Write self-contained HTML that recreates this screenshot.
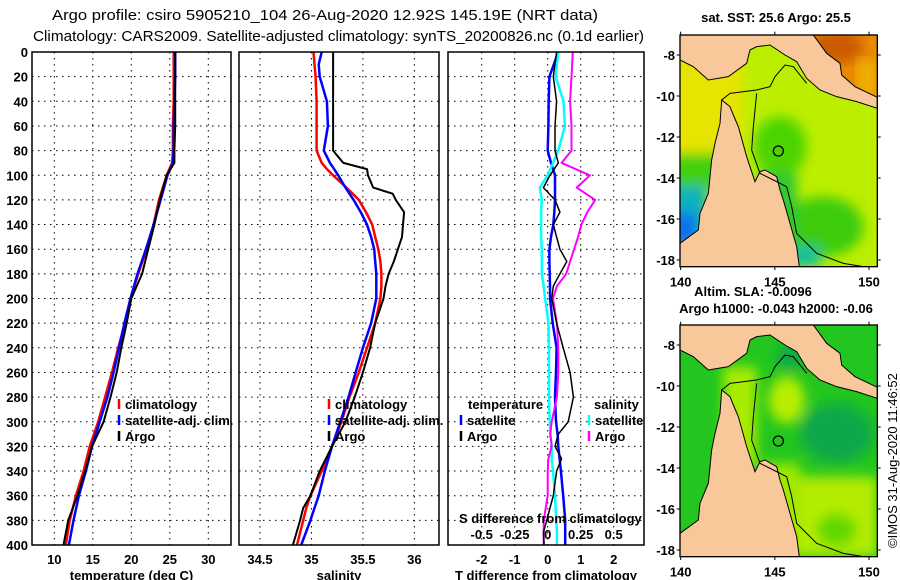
<!DOCTYPE html>
<html><head><meta charset="utf-8"><style>
body{margin:0;background:#fff}
svg{display:block;font-family:"Liberation Sans",sans-serif}
.t{font-weight:bold;font-size:13px}
</style></head><body>
<svg id="c" width="900" height="580" viewBox="0 0 900 580" xmlns="http://www.w3.org/2000/svg">
<text x="52" y="20" font-size="15" textLength="546" lengthAdjust="spacingAndGlyphs">Argo profile: csiro 5905210_104 26-Aug-2020 12.92S 145.19E (NRT data)</text>
<text x="33" y="41" font-size="15" textLength="611" lengthAdjust="spacingAndGlyphs">Climatology: CARS2009. Satellite-adjusted climatology: synTS_20200826.nc (0.1d earlier)</text>
<g id="maps"></g>
<g id="plots"></g>
<text transform="translate(897,548) rotate(-90)" font-size="13">©IMOS 31-Aug-2020 11:46:52</text>
</svg>
<script>
// ---- data ----
const depthT = [0,20,40,60,80,90,100,120,140,160,180,200,220,240,260,280,300,320,340,360,380,400];
const tempClim = [25.5,25.5,25.5,25.4,25.4,25.3,24.6,23.6,22.9,22.0,20.9,19.9,19.2,18.3,17.5,16.6,15.7,14.6,13.8,12.8,12.0,11.5];
const tempSat  = [25.7,25.7,25.6,25.5,25.5,25.4,24.7,23.8,22.9,21.9,20.8,19.9,19.1,18.4,17.7,16.9,15.9,14.9,14.1,13.2,12.5,11.9];
const tempArgo = [25.7,25.7,25.7,25.7,25.6,25.6,24.6,23.7,23.0,22.2,21.4,20.0,19.4,18.7,18.1,17.3,16.4,14.9,14.0,13.0,11.8,11.2];

const depthS = [0,10,20,40,60,80,90,95,100,110,115,120,130,140,150,160,170,180,190,200,220,240,260,280,300,320,340,360,370,380,400];
const salClim = [35.02,35.03,35.04,35.05,35.05,35.05,35.1,35.15,35.21,35.34,35.40,35.46,35.53,35.59,35.62,35.65,35.67,35.68,35.68,35.67,35.62,35.54,35.46,35.37,35.29,35.2,35.1,34.99,34.95,34.92,34.86];
const salSat  = [35.1,35.07,35.08,35.15,35.16,35.12,35.18,35.22,35.26,35.33,35.37,35.41,35.48,35.54,35.58,35.61,35.62,35.63,35.63,35.63,35.58,35.5,35.43,35.36,35.28,35.2,35.13,35.07,35.03,34.99,34.9];
const salArgo = [35.21,35.21,35.21,35.21,35.21,35.21,35.31,35.54,35.55,35.6,35.79,35.82,35.9,35.89,35.88,35.84,35.8,35.75,35.72,35.7,35.62,35.57,35.5,35.42,35.33,35.2,35.08,34.99,34.92,34.89,34.82];

const depthD = [0,20,40,60,80,90,100,110,120,130,140,150,160,170,180,190,200,220,240,260,280,300,310,320,330,340,360,380,390,400];
const dTSat  = [0.32,0.05,0.03,0.02,0.0,0.1,0.22,0.22,0.22,0.2,0.17,0.1,0.05,0.05,0.06,0.07,0.07,0.15,0.27,0.25,0.22,0.25,0.3,0.32,0.36,0.4,0.47,0.53,0.53,0.53];
const dTArgo = [0.27,0.17,0.27,0.22,0.22,0.32,0.07,-0.13,0.22,0.37,0.17,0.27,0.37,0.58,0.37,0.17,0.12,0.27,0.47,0.68,0.78,0.62,0.32,0.22,0.42,0.27,0.17,-0.03,-0.13,-0.11];
const dSSat  = [0.08,0.06,0.12,0.13,0.08,0.04,0.0,-0.06,-0.045,-0.05,-0.05,-0.05,-0.045,-0.045,-0.045,-0.03,-0.02,0.005,0.01,0.01,0.01,0.015,0.02,0.03,0.03,0.04,0.055,0.065,0.07,0.07];
const dSArgo = [0.19,0.18,0.17,0.18,0.18,0.105,0.32,0.22,0.36,0.3,0.255,0.23,0.2,0.17,0.14,0.07,0.04,0.07,0.08,0.08,0.07,0.03,0.02,0.03,0.005,0.0,0.0,-0.03,-0.03,-0.03];

const depthTicks = [0,20,40,60,80,100,120,140,160,180,200,220,240,260,280,300,320,340,360,380,400];
const tTicks = [10,15,20,25,30];
const sTicks = [34.5,35,35.5,36];
const dTTicks = [-2,-1,0,1,2];
const dSTicks = [-0.5,-0.25,0,0.25,0.5];

const NS='http://www.w3.org/2000/svg';
function el(tag,attrs,parent,text){const e=document.createElementNS(NS,tag);for(const k in attrs)e.setAttribute(k,attrs[k]);if(text!==undefined)e.textContent=text;parent.appendChild(e);return e;}
const plots=document.getElementById('plots');
const Y0=52,Y1=545;
const yD=d=>Y0+d*(Y1-Y0)/400;

function panel(name,x0,x1,xs,ticks,fmt,label){
  const g=el('g',{},plots);
  
  
  depthTicks.forEach(d=>{
    const l=el('line',{x1:x0,x2:x1,y1:yD(d),y2:yD(d),stroke:'#000','stroke-width':1,'stroke-dasharray':'1.5,4.5'},g);
    
    
  });
  ticks.forEach(v=>{
    const x=xs(v);
    const l=el('line',{x1:x,x2:x,y1:Y0,y2:Y1,stroke:'#000','stroke-width':1,'stroke-dasharray':'1.5,4.5'},g);
    
    
    const t=el('text',{x:x,y:564,'text-anchor':'middle',class:'t'},g,fmt(v));
    
    
  });
  const lab=el('text',{x:(x0+x1)/2,y:580,'text-anchor':'middle',class:'t'},g,label);
  
  
  return g;
}
function series(g,name,xs,vals,depths,color,w){
  const pts=vals.map((v,i)=>xs(v).toFixed(1)+','+yD(depths[i]).toFixed(1)).join(' ');
  const p=el('polyline',{points:pts,fill:'none',stroke:color,'stroke-width':w,'stroke-linejoin':'round'},g);
  
  
}
function frame(g,x0,x1){
  const r=el('rect',{x:x0,y:Y0,width:x1-x0,height:Y1-Y0,fill:'none',stroke:'#000','stroke-width':1.5},g);
  
  
}
function legend(g,x,y,color,text){
  const l=el('line',{x1:x,x2:x,y1:y-10,y2:y,stroke:color,'stroke-width':2.5},g);
  
  
  const t=el('text',{x:x+6,y:y,class:'t'},g,text);
  
  
}

depthTicks.forEach(d=>{
  const t=el('text',{x:28,y:yD(d)+5,'text-anchor':'end',class:'t'},plots,String(d));
  
  
});

const LY=[409,425,441];
// panel 1 temperature
const xT=v=>54.3+(v-10)*7.7;
let g1=panel('temperature',32,231,xT,tTicks,v=>String(v),'temperature (deg C)');
series(g1,'temp-climatology-line',xT,tempClim,depthT,'#f00',2.5);
series(g1,'temp-satellite-line',xT,tempSat,depthT,'#00f',2.5);
series(g1,'temp-argo-line',xT,tempArgo,depthT,'#000',2);
frame(g1,32,231);
legend(g1,119,LY[0],'#f00','climatology');
legend(g1,119,LY[1],'#00f','satellite-adj. clim.');
legend(g1,119,LY[2],'#000','Argo');

// panel 2 salinity
const xS=v=>260+(v-34.5)*102.9;
let g2=panel('salinity',239,439,xS,sTicks,v=>String(v),'salinity');
series(g2,'sal-climatology-line',xS,salClim,depthS,'#f00',2.5);
series(g2,'sal-satellite-line',xS,salSat,depthS,'#00f',2.5);
series(g2,'sal-argo-line',xS,salArgo,depthS,'#000',2);
frame(g2,239,439);
legend(g2,329,LY[0],'#f00','climatology');
legend(g2,329,LY[1],'#00f','satellite-adj. clim.');
legend(g2,329,LY[2],'#000','Argo');

// panel 3 differences
const xDT=v=>547.7+v*33;
const xDS=v=>547.7+v*132;
let g3=panel('difference',448,644,xDT,dTTicks,v=>String(v),'T difference from climatology');
series(g3,'dT-satellite-line',xDT,dTSat,depthD,'#00f',2.5);
series(g3,'dS-satellite-line',xDS,dSSat,depthD,'#0ff',2.5);
series(g3,'dS-argo-line',xDS,dSArgo,depthD,'#f0f',2);
series(g3,'dT-argo-line',xDT,dTArgo,depthD,'#000',1.5);
frame(g3,448,644);
dSTicks.forEach(v=>{
  const t=el('text',{x:xDS(v),y:539,'text-anchor':'middle',class:'t'},g3,String(v));
  
  
});
let st=el('text',{x:459,y:523,class:'t'},g3,'S difference from climatology');


let tt=el('text',{x:468,y:LY[0],class:'t'},g3,'temperature');


let sl=el('text',{x:594,y:LY[0],class:'t'},g3,'salinity');


legend(g3,461,LY[1],'#00f','satellite');
legend(g3,461,LY[2],'#000','Argo');
legend(g3,589,LY[1],'#0ff','satellite');
legend(g3,589,LY[2],'#f0f','Argo');

// ---- maps ----
const maps=document.getElementById('maps');
const cape="90,730 145,690 150,640 175,580 185,480 195,430 210,370 215,300 240,320 250,345 265,380 290,470 300,500 315,545 330,515 345,510 380,530 390,570 400,600 420,670 440,740 448,800 90,800";
const png="90,105 490,105 530,160 570,190 575,225 615,260 682,292 682,325 620,305 560,290 510,270 470,235 440,185 405,165 360,135 320,140 300,150 290,190 235,230 175,240 130,200 90,180";
const orange="490,105 682,105 682,292 615,260 575,225 570,190 530,160";
function drawMap(oy,kind){
  const g=el('g',{transform:'translate(650,'+oy+') scale(0.33333)'},maps);
  
  
  const defs=el('defs',{},g);
  el('filter',{id:'bl'+kind},defs).appendChild((()=>{const f=document.createElementNS(NS,'feGaussianBlur');f.setAttribute('stdDeviation','18');return f;})());
  const cp=el('clipPath',{id:'cp'+kind},defs);
  el('rect',{x:90,y:105,width:592,height:695},cp);
  const inner=el('g',{'clip-path':'url(#cp'+kind+')'},g);
  if(kind==='sst'){
    el('rect',{x:90,y:105,width:592,height:695,fill:'#bcee00'},inner);
    const b=el('g',{filter:'url(#bl'+kind+')'},inner);
    el('rect',{x:60,y:180,width:220,height:280,fill:'#e6e400'},b);
    el('rect',{x:60,y:460,width:180,height:110,fill:'#40d010'},b);
    el('rect',{x:60,y:560,width:110,height:180,fill:'#10b0c0'},b);
    el('rect',{x:60,y:640,width:80,height:100,fill:'#0a70f0'},b);
    el('ellipse',{cx:390,cy:440,rx:80,ry:90,fill:'#4cd400'},b);
    el('ellipse',{cx:520,cy:680,rx:120,ry:90,fill:'#3ccc10'},b);
    el('rect',{x:330,y:520,width:110,height:280,fill:'#30c830'},b);
    el('rect',{x:430,y:740,width:80,height:60,fill:'#10c0a0'},b);
    el('polygon',{points:orange,fill:'#e88a00'},inner);
    el('ellipse',{cx:560,cy:140,rx:80,ry:50,fill:'#cc5a00',filter:'url(#bl'+kind+')'},inner);
    el('rect',{x:620,y:180,width:62,height:110,fill:'#f0b000',filter:'url(#bl'+kind+')'},inner);
  } else {
    el('rect',{x:90,y:105,width:592,height:695,fill:'#22c61e'},inner);
    const b=el('g',{filter:'url(#bl'+kind+')'},inner);
    el('ellipse',{cx:410,cy:330,rx:55,ry:70,fill:'#b8ee00'},b);
    el('ellipse',{cx:560,cy:430,rx:110,ry:90,fill:'#10a848'},b);
    el('ellipse',{cx:420,cy:200,rx:40,ry:40,fill:'#10a848'},b);
    el('rect',{x:440,y:560,width:242,height:240,fill:'#b4ec00'},b);
    el('rect',{x:220,y:230,width:100,height:300,fill:'#a8ec00'},b);
    el('rect',{x:330,y:520,width:120,height:280,fill:'#a0e800'},b);
    el('ellipse',{cx:560,cy:720,rx:60,ry:50,fill:'#60d800'},b);
  }
  el('polygon',{points:cape,fill:'#f9c89a',stroke:'#000','stroke-width':3},inner);
  el('polygon',{points:png,fill:'#f9c89a',stroke:'#000','stroke-width':3},inner);
  el('polyline',{points:'215,300 240,280 320,270 360,260 375,230 405,195 430,200 470,250',fill:'none',stroke:'#000','stroke-width':3},inner);
  el('polyline',{points:'320,280 310,380 305,450 330,520 370,540 410,560 425,620 440,700 500,760 580,790 640,800',fill:'none',stroke:'#000','stroke-width':3},inner);
  const c=el('circle',{cx:385,cy:453,r:15,fill:'none',stroke:'#000','stroke-width':4},g);
  
  
  el('rect',{x:90,y:105,width:592,height:695,fill:'none',stroke:'#000','stroke-width':4},g);
  const lats=[-8,-10,-12,-14,-16,-18];
  lats.forEach(la=>{
    const y=165+(-8-la)*61.5;
    el('line',{x1:80,x2:90,y1:y,y2:y,stroke:'#000','stroke-width':3},g);
    el('line',{x1:682,x2:692,y1:y,y2:y,stroke:'#000','stroke-width':3},g);
    const t=el('text',{x:75,y:y+15,'text-anchor':'end','font-size':39,'font-weight':'bold'},g,String(la));
    
    
  });
  [140,145,150].forEach(lo=>{
    const x=92+(lo-140)*56.5;
    el('line',{x1:x,x2:x,y1:800,y2:810,stroke:'#000','stroke-width':3},g);
    el('line',{x1:x,x2:x,y1:95,y2:105,stroke:'#000','stroke-width':3},g);
    const t=el('text',{x:x,y:860,'text-anchor':'middle','font-size':39,'font-weight':'bold'},g,String(lo));
    
    
  });
}
drawMap(0,'sst');
drawMap(290,'sla');
[['sst-map-title',776,22,'sat. SST: 25.6 Argo: 25.5'],['sla-map-title-1',753,296,'Altim. SLA: -0.0096'],['sla-map-title-2',776,313,'Argo h1000: -0.043 h2000: -0.06']].forEach(a=>{
  const t=el('text',{x:a[1],y:a[2],'text-anchor':'middle',class:'t'},maps,a[3]);
  
  
});
</script>
</body></html>
